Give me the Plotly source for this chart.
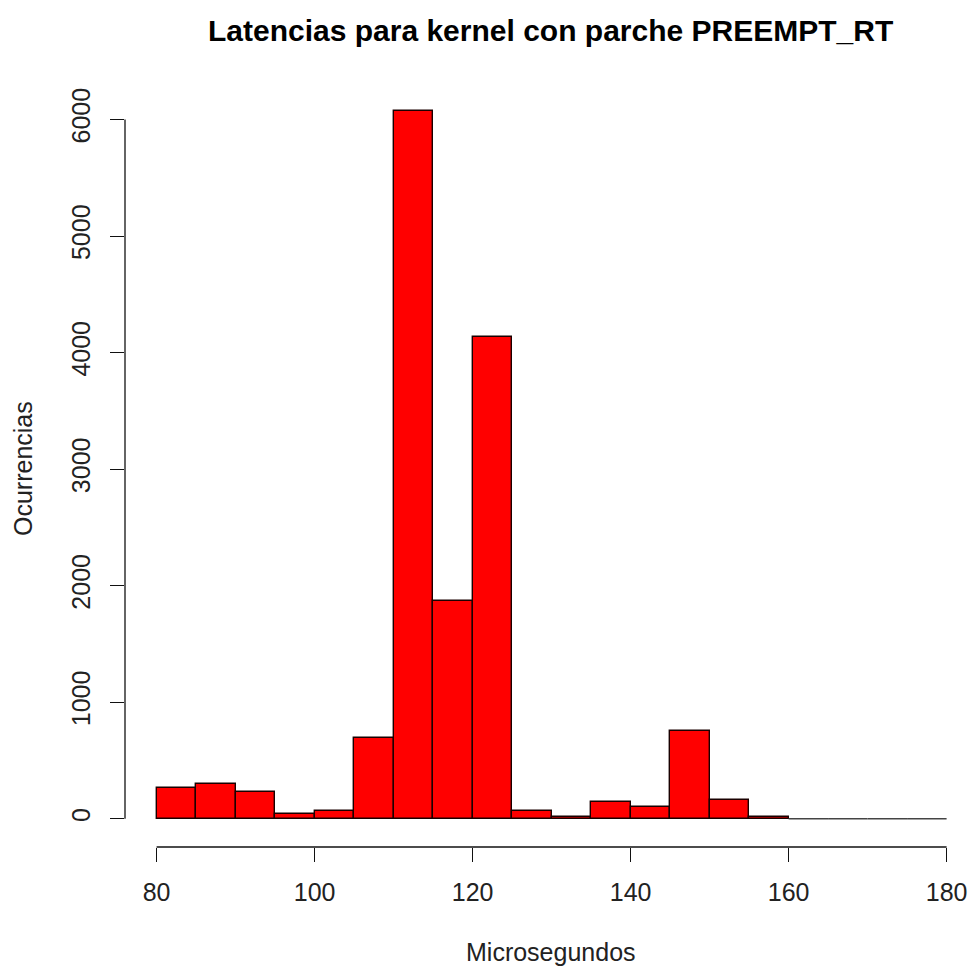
import plotly.graph_objects as go
import numpy as np

# Histogram data (bin edges in microseconds, counts per bin)
bin_edges = list(range(80, 185, 5))
counts = [266, 294, 226, 43, 69, 690, 6070, 1869, 4131, 66, 15, 143, 103, 752, 160, 12, 0, 0, 0, 0]
x_ticks = [80, 100, 120, 140, 160, 180]
y_ticks = [0, 1000, 2000, 3000, 4000, 5000, 6000]

title_text = "Latencias para kernel con parche PREEMPT_RT"
x_title = "Microsegundos"
y_title = "Ocurrencias"

edges = np.array(bin_edges, dtype=float)
centers = (edges[:-1] + edges[1:]) / 2
widths = np.diff(edges)
cnt = np.array(counts, dtype=float)

W, H = 968, 966
ml, mr, mt, mb = 125, 0, 83, 119
plot_w = W - ml - mr
plot_h = H - mt - mb

ymax = cnt.max()
yr = [-0.04 * ymax, 1.04 * ymax]
xlo = edges[0] - 0.04 * (edges[-1] - edges[0])
px_per_unit = 790 / (edges[-1] - edges[0])
xhi = xlo + plot_w / px_per_unit

font = "Liberation Sans, Arial, sans-serif"

fig = go.Figure()
nz = cnt > 0
fig.add_trace(go.Bar(
    x=centers[nz], y=cnt[nz], width=widths[nz],
    marker=dict(color="#FF0000", line=dict(color="#1a0000", width=1.4)),
    hoverinfo="x+y", showlegend=False,
))
# zero-count bins drawn as a baseline, as R does
zx = []
zy = []
for i in np.where(~nz)[0]:
    zx += [edges[i], edges[i + 1], None]
    zy += [cnt[i], cnt[i], None]
fig.add_trace(go.Scatter(x=zx, y=zy, mode="lines",
                         line=dict(color="#444444", width=1.6),
                         showlegend=False, hoverinfo="skip"))

# R-style detached axes
fig.add_shape(type="line", xref="x", yref="paper",
              x0=x_ticks[0], x1=x_ticks[-1], y0=0, y1=0,
              line=dict(color="#111111", width=1.3))
fig.add_shape(type="line", xref="paper", yref="y",
              x0=0, x1=0, y0=y_ticks[0], y1=y_ticks[-1],
              line=dict(color="#111111", width=1.3))

fig.update_layout(
    width=W, height=H,
    margin=dict(l=ml, r=mr, t=mt, b=mb, pad=0),
    plot_bgcolor="white", paper_bgcolor="white",
    bargap=0,
    font=dict(family=font, color="#222222", size=26),
    xaxis=dict(range=[xlo, xhi], tickmode="array", tickvals=x_ticks,
               ticktext=[str(v) for v in x_ticks],
               showgrid=False, zeroline=False, showline=False,
               ticks="outside", ticklen=14, tickwidth=1.3, tickcolor="#111111",
               tickfont=dict(size=25, family=font, color="#222222"),
               ticklabelstandoff=9, ticklabeloverflow="allow"),
    yaxis=dict(range=yr, tickmode="array", tickvals=y_ticks,
               ticktext=[str(v) for v in y_ticks],
               showgrid=False, zeroline=False, showline=False,
               ticks="outside", ticklen=14, tickwidth=1.3, tickcolor="#111111",
               tickangle=-90,
               tickfont=dict(size=25, family=font, color="#222222"),
               ticklabelstandoff=10, ticklabeloverflow="allow"),
    annotations=[
        dict(text="<b>" + title_text + "</b>", xref="paper", yref="paper",
             x=(550 - ml) / plot_w, y=(plot_h + mt - 31) / plot_h,
             xanchor="center", yanchor="middle", showarrow=False,
             font=dict(size=30, family=font, color="#000000")),
        dict(text=x_title, xref="paper", yref="paper",
             x=(551 - ml) / plot_w, y=-(952 - (mt + plot_h)) / plot_h,
             xanchor="center", yanchor="middle", showarrow=False,
             font=dict(size=25, family=font, color="#222222")),
        dict(text=y_title, xref="paper", yref="paper",
             x=(23 - ml) / plot_w, y=(mt + plot_h - 469) / plot_h,
             xanchor="center", yanchor="middle", showarrow=False, textangle=-90,
             font=dict(size=25, family=font, color="#222222")),
    ],
)

fig.write_html(
    "out.html",
    config={"displayModeBar": False},
    post_script="document.body.style.margin='0px';document.body.style.overflow='hidden';",
)
